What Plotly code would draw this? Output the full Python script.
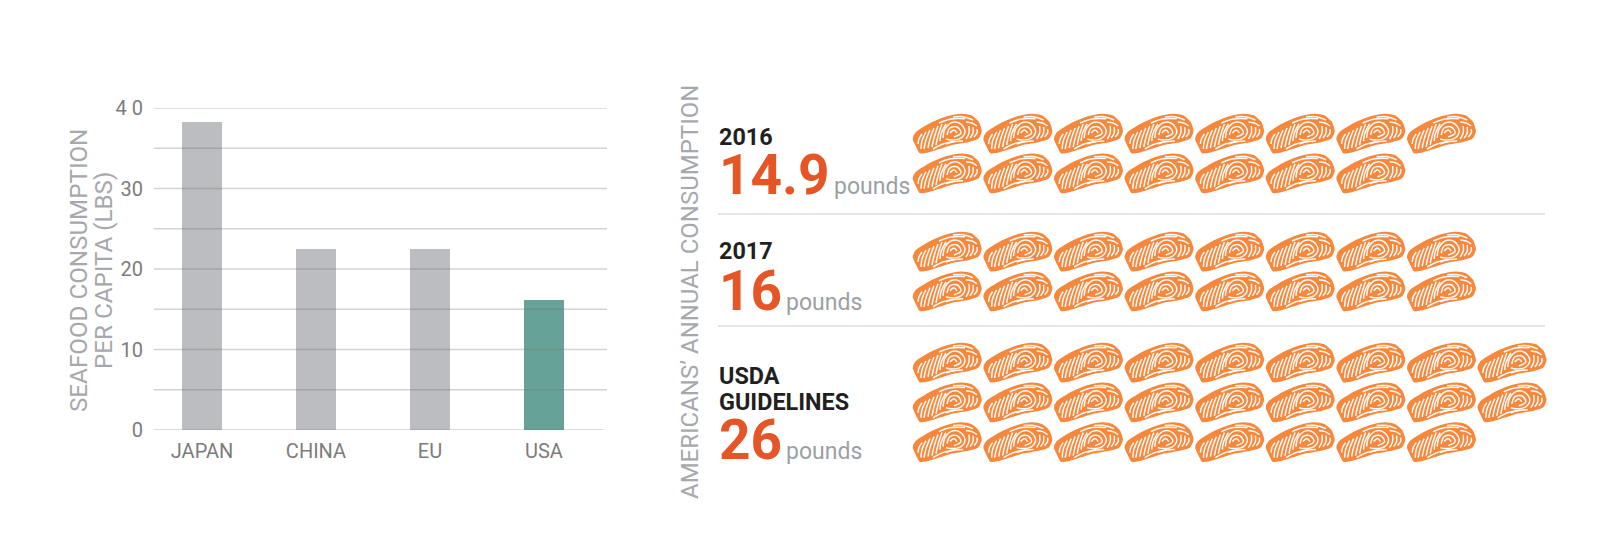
import plotly.graph_objects as go

W, H = 1612, 545

# --- data -------------------------------------------------------------
countries = ["JAPAN", "CHINA", "EU", "USA"]
per_capita = [38.3, 22.5, 22.5, 16.2]
bar_colors = ["#bcbdc0", "#bcbdc0", "#bcbdc0", "#66a396"]
y_ticks = [0, 10, 20, 30, 40]
y_tick_labels = ["0", "10", "20", "30", "4 0"]
minor_grid = [5, 15, 25, 35]

groups = ["2016", "2017", "USDA<br>GUIDELINES"]
pounds = [14.9, 16, 26]
pound_labels = ["14.9", "16", "26"]

# --- icon outline and stripes, in the icon's own units ----------------
outline = [(20, 8.5), (34, 3), (48, 0.5), (58, 2), (65, 8), (68, 17),
           (65, 24), (55, 27.5), (40, 30), (27, 34), (14, 38), (7, 38.5), (4, 33),
           (0.5, 25), (3, 19), (11, 13.5), (20, 8.5)]
stripes = [
    [(5, 30), (6, 25), (9, 20)], [(8, 35), (9, 27), (13, 18)], [(11, 35), (13, 26), (17, 16)],
    [(15, 34), (17, 25), (21, 14)], [(19, 33), (21, 24), (25, 12)], [(23, 31), (25, 22), (29, 10)],
    [(27, 27), (28, 20), (33, 10)],
    [(30, 24), (32, 15), (39, 8.5), (47, 9.5), (52, 17), (48, 24), (38, 26), (33, 25)],
    [(34, 21), (37, 14), (44, 13), (48, 19), (41, 23)],
    [(37, 19), (41, 16), (44, 19)],
    [(26, 9), (38, 5), (52, 4.8)], [(40, 3), (50, 2.8), (60, 6)],
    [(53, 8), (59, 9), (64, 12)],
    [(53, 25), (56, 19), (56, 12)], [(57, 24), (60, 19), (60, 13)], [(61, 23), (64, 19), (64, 15)],
    [(20, 35), (30, 30), (42, 27.5)], [(33, 30), (42, 27.5), (50, 27)],
]

icon_left, icon_pitch_x, icon_pitch_y = 913, 70.6, 39.8
group_tops = [114, 232, 343]
per_row = [8, 8, 9]

fig = go.Figure()
fig.add_trace(go.Bar(x=list(range(4)), y=per_capita, width=0.351, marker=dict(color=bar_colors, line_width=0),
                     xaxis="x", yaxis="y", showlegend=False))

# --- pictogram: one fillet per pound, rounded to whole fillets --------
fx, fy, sx, sy = [], [], [], []
for value, top, cols in zip(pounds, group_tops, per_row):
    n = round(value)
    for i in range(n):
        ox = icon_left + (i % cols) * icon_pitch_x
        oy = top + (i // cols) * icon_pitch_y
        fx += [ox + p[0] for p in outline] + [None]
        fy += [oy + p[1] for p in outline] + [None]
        for s in stripes:
            sx += [ox + p[0] for p in s] + [None]
            sy += [oy + p[1] for p in s] + [None]
fig.add_trace(go.Scatter(x=fx, y=fy, mode="lines", fill="toself", fillcolor="#f5883d",
                         line=dict(color="#f5883d", width=1.5, shape="spline", smoothing=0.6),
                         xaxis="x2", yaxis="y2", showlegend=False, hoverinfo="skip"))
fig.add_trace(go.Scatter(x=sx, y=sy, mode="lines",
                         line=dict(color="rgba(255,255,255,0.95)", width=1.5, shape="spline", smoothing=1),
                         xaxis="x2", yaxis="y2", showlegend=False, hoverinfo="skip"))

# --- gridlines above the bars, as in the reference ---------------------
shapes = []
for v in y_ticks + minor_grid:
    shapes.append(dict(type="line", xref="x", yref="y", x0=-0.421, x1=3.553 if v else 3.53, y0=v, y1=v,
                       layer="above", line=dict(color="rgba(110,110,115,0.30)", width=1.3)))
for yy in (214, 326):
    shapes.append(dict(type="line", xref="x2", yref="y2", x0=718, x1=1545, y0=yy, y1=yy,
                       line=dict(color="#dcdcdc", width=1.5)))


def txt(x, y, s, size, color, bold=False, angle=0, xanchor="left", yanchor="middle"):
    return dict(xref="x2", yref="y2", x=x, y=y, text=s, showarrow=False, textangle=angle,
                xanchor=xanchor, yanchor=yanchor, align="left",
                font=dict(family="Roboto", size=size, color=color, weight=700 if bold else 400))


GREY = "#a6a8ab"
ann = [
    txt(79, 271, "SEAFOOD CONSUMPTION", 24.2, GREY, angle=-90, xanchor="center"),
    txt(104, 271, "PER CAPITA (LBS)", 24.2, GREY, angle=-90, xanchor="center"),
    txt(690, 292, "AMERICANS\u2019 ANNUAL CONSUMPTION", 24, GREY, angle=-90, xanchor="center"),
]
label_y = [137, 251, None]
num_y = [174.5, 290.5, 439.5]
pounds_x = [832, 784, 784]
for i, (g, lab) in enumerate(zip(groups, pound_labels)):
    if label_y[i] is not None:
        ann.append(txt(717, label_y[i], g, 23.4, "#231f20", bold=True))
    ann.append(txt(717, num_y[i], lab, 55, "#e55525", bold=True))
    ann.append(txt(pounds_x[i], num_y[i] + 11.5, "pounds", 23, "#9b9fa3"))
ann.append(txt(717, 376, "USDA", 23.4, "#231f20", bold=True))
ann.append(txt(717, 402, "GUIDELINES", 23.4, "#231f20", bold=True))

fig.update_layout(
    template="none",
    width=W, height=H, margin=dict(l=0, r=0, t=0, b=0, pad=0),
    paper_bgcolor="white", plot_bgcolor="rgba(0,0,0,0)", showlegend=False,
    shapes=shapes, annotations=ann, bargap=0,
    xaxis=dict(domain=[154 / W, 607 / W], range=[-0.421, 3.553], tickmode="array", automargin=False,
               tickvals=list(range(4)), ticktext=countries, showgrid=False, zeroline=False,
               showline=False, ticks="", ticklabelstandoff=7,
               tickfont=dict(family="Roboto", size=20, color="#7c7c7c")),
    yaxis=dict(domain=[1 - 430 / H, 1 - 108 / H], range=[0, 40], tickmode="array", automargin=False,
               tickvals=y_ticks, ticktext=y_tick_labels, showgrid=False, zeroline=False,
               showline=False, ticks="", ticklabelstandoff=10,
               tickfont=dict(family="Roboto", size=20, color="#7c7c7c")),
    xaxis2=dict(domain=[0, 1], range=[0, W], visible=False, anchor="y2", automargin=False),
    yaxis2=dict(domain=[0, 1], range=[H, 0], visible=False, anchor="x2", automargin=False),
)

fig.write_html("out.html", config={"displayModeBar": False},
               post_script="document.body.style.margin='0';document.documentElement.style.overflow='hidden';")
